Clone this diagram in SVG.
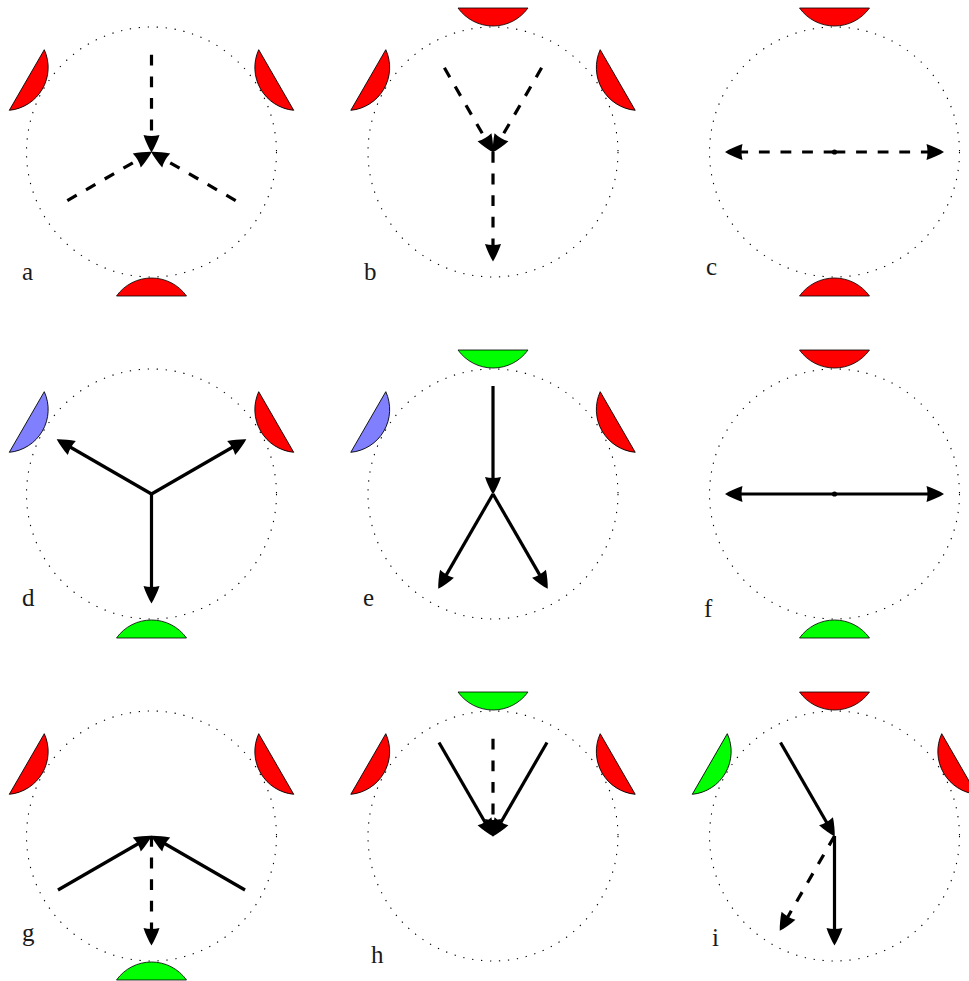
<svg xmlns="http://www.w3.org/2000/svg" xmlns:xlink="http://www.w3.org/1999/xlink" width="969" height="981" viewBox="0 0 969 981">
<style>
.ring{fill:none;stroke:#000;stroke-width:1.1;stroke-dasharray:1.3 7.7}
.cap{stroke:#000;stroke-width:0.8}
.red{fill:#ff0000}.grn{fill:#00ff00}.blu{fill:#8080ff}
.lbl{font-family:"Liberation Serif","DejaVu Serif",serif;font-size:25px;fill:#1a1a1a}
.ln{fill:none;stroke:#000;stroke-width:3.2}
.ds{stroke-dasharray:10.8 10.8}
.dc{stroke-dashoffset:7}
.ae{marker-end:url(#ah)}
.as{marker-start:url(#ah)}
.dot{fill:#000}
</style>
<defs>
<marker id="ah" markerUnits="userSpaceOnUse" orient="auto-start-reverse" refX="-7" refY="0" markerWidth="24" markerHeight="24" overflow="visible">
<path d="M0.5,0 C-4,-2.8 -11,-6 -17,-8 Q-15,0 -17,8 C-11,6 -4,2.8 0.5,0 Z" fill="#000"/>
</marker>
<path id="cap" class="cap" d="M-35,-144 A43,43 0 0 0 35,-144 Z"/>
</defs>

<g id="panel-a">
<circle class="ring" cx="151.5" cy="152" r="125"/>
<use xlink:href="#cap" class="red" transform="translate(151.5,152) rotate(-60)"/>
<use xlink:href="#cap" class="red" transform="translate(151.5,152) rotate(60)"/>
<use xlink:href="#cap" class="red" transform="translate(151.5,152) rotate(180)"/>
<text class="lbl" x="22" y="280">a</text>
</g>
<g id="panel-b">
<circle class="ring" cx="493" cy="152" r="125"/>
<use xlink:href="#cap" class="red" transform="translate(493,152)"/>
<use xlink:href="#cap" class="red" transform="translate(493,152) rotate(-60)"/>
<use xlink:href="#cap" class="red" transform="translate(493,152) rotate(60)"/>
<text class="lbl" x="364" y="280">b</text>
</g>
<g id="panel-c">
<circle class="ring" cx="834.5" cy="152" r="125"/>
<use xlink:href="#cap" class="red" transform="translate(834.5,152)"/>
<use xlink:href="#cap" class="red" transform="translate(834.5,152) rotate(180)"/>
<circle class="dot" cx="834.5" cy="152" r="2.6"/>
<text class="lbl" x="706" y="275">c</text>
</g>
<g id="panel-d">
<circle class="ring" cx="151.5" cy="494" r="125"/>
<use xlink:href="#cap" class="blu" transform="translate(151.5,494) rotate(-60)"/>
<use xlink:href="#cap" class="red" transform="translate(151.5,494) rotate(60)"/>
<use xlink:href="#cap" class="grn" transform="translate(151.5,494) rotate(180)"/>
<text class="lbl" x="22" y="606">d</text>
</g>
<g id="panel-e">
<circle class="ring" cx="493" cy="494" r="125"/>
<use xlink:href="#cap" class="grn" transform="translate(493,494)"/>
<use xlink:href="#cap" class="blu" transform="translate(493,494) rotate(-60)"/>
<use xlink:href="#cap" class="red" transform="translate(493,494) rotate(60)"/>
<text class="lbl" x="363" y="606">e</text>
</g>
<g id="panel-f">
<circle class="ring" cx="834.5" cy="494" r="125"/>
<use xlink:href="#cap" class="red" transform="translate(834.5,494)"/>
<use xlink:href="#cap" class="grn" transform="translate(834.5,494) rotate(180)"/>
<circle class="dot" cx="834.5" cy="494" r="2.6"/>
<text class="lbl" x="704" y="617">f</text>
</g>
<g id="panel-g">
<circle class="ring" cx="151.5" cy="836" r="125"/>
<use xlink:href="#cap" class="red" transform="translate(151.5,836) rotate(-60)"/>
<use xlink:href="#cap" class="red" transform="translate(151.5,836) rotate(60)"/>
<use xlink:href="#cap" class="grn" transform="translate(151.5,836) rotate(180)"/>
<text class="lbl" x="22" y="941">g</text>
</g>
<g id="panel-h">
<circle class="ring" cx="493" cy="836" r="125"/>
<use xlink:href="#cap" class="grn" transform="translate(493,836)"/>
<use xlink:href="#cap" class="red" transform="translate(493,836) rotate(-60)"/>
<use xlink:href="#cap" class="red" transform="translate(493,836) rotate(60)"/>
<text class="lbl" x="371" y="963">h</text>
</g>
<g id="panel-i">
<circle class="ring" cx="834.5" cy="836" r="125"/>
<use xlink:href="#cap" class="red" transform="translate(834.5,836)"/>
<use xlink:href="#cap" class="grn" transform="translate(834.5,836) rotate(-60)"/>
<use xlink:href="#cap" class="red" transform="translate(834.5,836) rotate(60)"/>
<text class="lbl" x="712" y="946">i</text>
</g>

<g id="connectors">
<!-- a -->
<line class="ln ds dc as" x1="151.5" y1="145" x2="151.5" y2="44"/>
<line class="ln ds dc as" x1="145.44" y1="155.5" x2="57.97" y2="206"/>
<line class="ln ds dc as" x1="157.56" y1="155.5" x2="245.03" y2="206"/>
<!-- b -->
<line class="ln ds dc as" x1="489.5" y1="145.94" x2="439" y2="58.47"/>
<line class="ln ds dc as" x1="496.5" y1="145.94" x2="547" y2="58.47"/>
<line class="ln ds ae" x1="493" y1="152" x2="493" y2="254"/>
<!-- c -->
<line class="ln ds ae" x1="834.5" y1="152" x2="732.5" y2="152"/>
<line class="ln ds ae" x1="834.5" y1="152" x2="936.5" y2="152"/>
<!-- d -->
<line class="ln ae" x1="151.5" y1="494" x2="63.17" y2="443"/>
<line class="ln ae" x1="151.5" y1="494" x2="239.83" y2="443"/>
<line class="ln ae" x1="151.5" y1="494" x2="151.5" y2="596"/>
<!-- e -->
<line class="ln ae" x1="493" y1="386" x2="493" y2="487"/>
<line class="ln ae" x1="493" y1="494" x2="442" y2="582.33"/>
<line class="ln ae" x1="493" y1="494" x2="544" y2="582.33"/>
<!-- f -->
<line class="ln ae" x1="834.5" y1="494" x2="732.5" y2="494"/>
<line class="ln ae" x1="834.5" y1="494" x2="936.5" y2="494"/>
<!-- g -->
<line class="ln ae" x1="57.97" y1="890" x2="145.44" y2="839.5"/>
<line class="ln ae" x1="245.03" y1="890" x2="157.56" y2="839.5"/>
<line class="ln ds ae" x1="151.5" y1="836" x2="151.5" y2="938"/>
<!-- h -->
<line class="ln ae" x1="439" y1="742.47" x2="489.5" y2="829.94"/>
<line class="ln ae" x1="547" y1="742.47" x2="496.5" y2="829.94"/>
<line class="ln ds dc as" x1="493" y1="829" x2="493" y2="728"/>
<!-- i -->
<line class="ln ae" x1="780.5" y1="742.47" x2="831" y2="829.94"/>
<line class="ln ds ae" x1="834.5" y1="836" x2="783.5" y2="924.33"/>
<line class="ln ae" x1="834.5" y1="836" x2="834.5" y2="938"/>
</g>
</svg>
